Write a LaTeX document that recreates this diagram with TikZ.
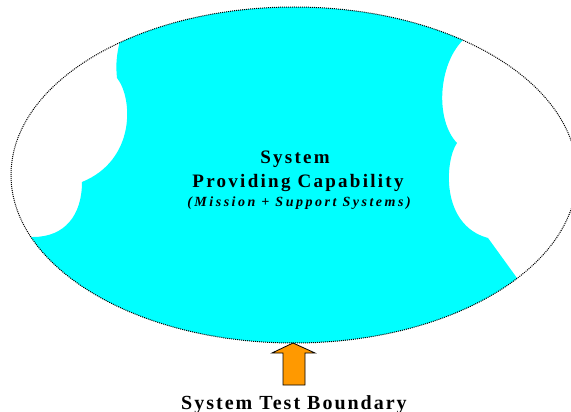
\documentclass[tikz,border=0pt]{standalone}
\usepackage{fontspec}
\newfontfamily\lsfont[LetterSpace=12]{Liberation Serif}
\newfontfamily\lsbotfont[LetterSpace=10]{Liberation Serif}
\newfontfamily\lsitfont[LetterSpace=18]{Liberation Serif}
\definecolor{capcyan}{HTML}{00FFFF}
\definecolor{arroworange}{HTML}{FF9900}
\tikzset{
  boundary/.style={draw=black, line width=1pt, dash pattern=on 1pt off 1pt},
  capfill/.style={fill=capcyan},
  blockarrow/.style={draw=black, line width=0.8pt, fill=arroworange, line join=miter},
  maintext/.style={font=\lsfont\bfseries\fontsize{19}{21}\selectfont, anchor=base, inner sep=0pt},
  subtext/.style={font=\lsitfont\bfseries\itshape\fontsize{14}{16}\selectfont, anchor=base, inner sep=0pt},
  bottomtext/.style={font=\lsbotfont\bfseries\fontsize{20}{22}\selectfont, anchor=base, inner sep=0pt}
}
\begin{document}
\begin{tikzpicture}[x=1pt,y=-1pt]
\useasboundingbox (0,0) rectangle (571,412);
% cyan capability region clipped to the ellipse
\begin{scope}
  \clip (294,175) ellipse [x radius=283, y radius=168];
  \fill[capfill] (119,-5) -- (119,45)
    .. controls (116,58) and (116,68) .. (117,78)
    .. controls (133,98) and (136,160) .. (82,182)
    .. controls (82,215) and (65,237) .. (33,237)
    -- (-5,237) -- (-5,420) -- (600,420) -- (600,296) -- (530,296) -- (488,238)
    .. controls (440,225) and (445,160) .. (457,143)
    .. controls (435,120) and (438,65) .. (463,40)
    -- (475,20) -- (475,-5) -- cycle;
\end{scope}
% system test boundary ellipse
\draw[boundary] (294,175) ellipse [x radius=283, y radius=168];
% texts
\node[maintext] (sys) at (295,163) {System};
\node[maintext] (prov) at (298,187) {Providing Capability};
\node[subtext] (miss) at (299,206) {(Mission + Support Systems)};
\node[bottomtext] (stb) at (294,409) {System Test Boundary};
% block arrow
\draw[blockarrow] (293,343) -- (315,353) -- (305,353) -- (305,385) -- (283,385) -- (283,353) -- (272,353) -- cycle;
\end{tikzpicture}
\end{document}
